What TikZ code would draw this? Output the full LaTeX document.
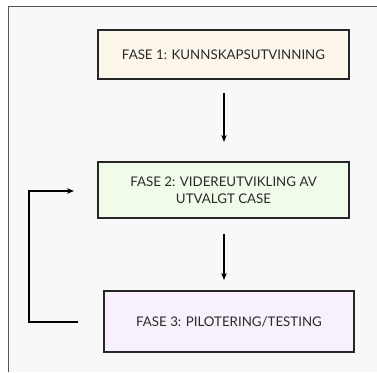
\documentclass[tikz,border=0pt]{standalone}
\usepackage{fontspec}
\setmainfont{Lato}
\usetikzlibrary{arrows.meta}
\definecolor{bgc}{HTML}{F8F8F8}
\definecolor{framec}{HTML}{555555}
\definecolor{txtc}{HTML}{2A2A2A}
\definecolor{c1}{HTML}{FDF6EA}
\definecolor{c2}{HTML}{F0FBEA}
\definecolor{c3}{HTML}{F8F0FB}
\tikzset{
  phase/.style={draw=black!85, line width=1.2pt, text=txtc, align=center, font=\fontsize{13.3}{16.5}\selectfont, inner sep=0pt},
  flow/.style={draw=black, line width=1.1pt, -{Stealth[length=7pt,width=5.5pt]}},
}
\begin{document}
\begin{tikzpicture}[x=1pt,y=-1pt]
\useasboundingbox (0,0) rectangle (377,372);
\fill[white] (0,0) rectangle (377,372);
\fill[bgc] (8,6) rectangle (377,372);
\draw[framec, line width=0.8pt] (8,372) -- (8,6) -- (377,6);
\node[phase, fill=c1, minimum width=251pt, minimum height=49pt] (p1) at (223.5,54.5) {FASE 1: KUNNSKAPSUTVINNING};
\node[phase, fill=c2, minimum width=251pt, minimum height=56pt] (p2) at (223.5,190) {FASE 2: VIDEREUTVIKLING AV\\UTVALGT CASE};
\node[phase, fill=c3, minimum width=250pt, minimum height=61pt] (p3) at (229,321.5) {FASE 3: PILOTERING/TESTING};
\coordinate (a1s) at (224,93);
\coordinate (a1e) at (224,142);
\draw[flow] (a1s) -- (a1e);
\coordinate (a2s) at (224,234);
\coordinate (a2e) at (224,280);
\draw[flow] (a2s) -- (a2e);
\coordinate (fb1) at (78,322);
\coordinate (fb2) at (74,191);
\draw[flow] (fb1) -- (29,322) -- (29,191) -- (fb2);
\end{tikzpicture}
\end{document}
